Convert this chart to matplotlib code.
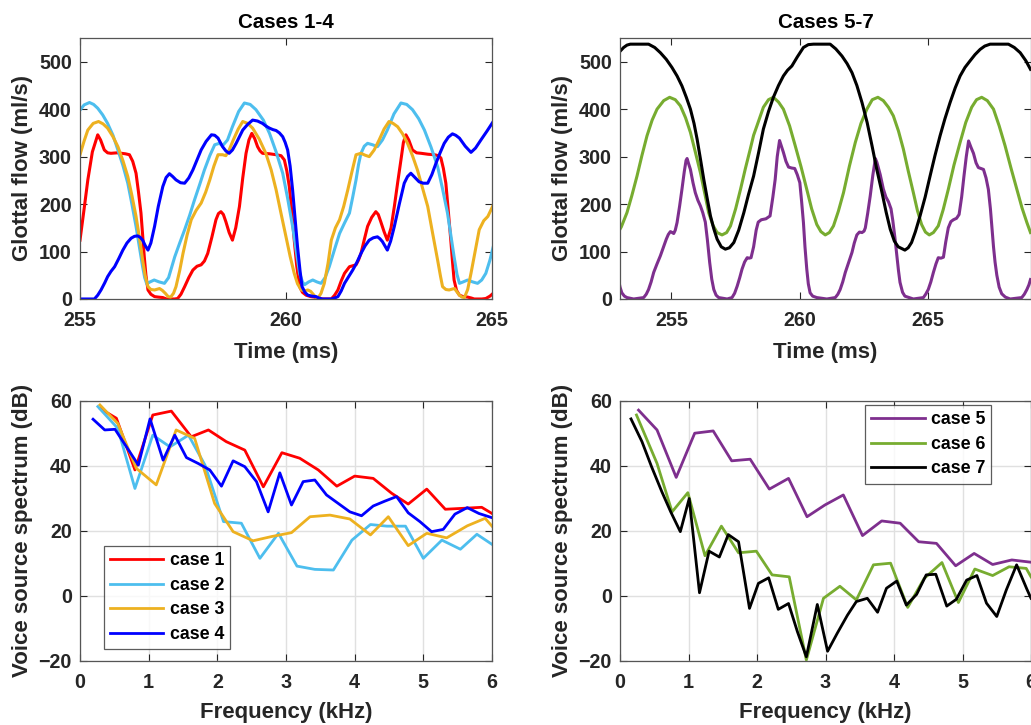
import matplotlib
matplotlib.use("Agg")
import matplotlib.pyplot as plt

plt.rcParams['font.family'] = ['Liberation Sans', 'DejaVu Sans']
plt.rcParams['font.weight'] = 'bold'

# ---- glottal flow, cases 1-4 (time ms, flow ml/s) ----
t1 = [255.0, 255.1, 255.19, 255.3, 255.43, 255.5, 255.59, 255.67, 255.75, 255.9, 256.0, 256.1, 256.2, 256.28,
      256.36, 256.42, 256.48, 256.52, 256.56, 256.6, 256.65, 256.72, 256.81, 256.9, 257.01, 257.1, 257.3,
      257.37, 257.45, 257.54, 257.64, 257.74, 257.84, 257.94, 258.02, 258.1, 258.2, 258.3, 258.36, 258.42,
      258.48, 258.54, 258.62, 258.7, 258.78, 258.87, 258.95, 259.03, 259.1, 259.17, 259.24, 259.31, 259.37,
      259.43, 259.6, 259.76, 259.88, 259.96, 260.02, 260.08, 260.14, 260.2, 260.26, 260.33, 260.4, 260.49,
      260.6, 260.69, 260.8, 260.9, 261.1, 261.18, 261.26, 261.34, 261.42, 261.54, 261.62, 261.7, 261.76,
      261.82, 261.9, 261.98, 262.08, 262.18, 262.24, 262.3, 262.38, 262.46, 262.55, 262.63, 262.71, 262.79,
      262.85, 262.91, 262.98, 263.07, 263.17, 263.28, 263.45, 263.6, 263.7, 263.76, 263.82, 263.88, 263.94,
      264.0, 264.04, 264.08, 264.14, 264.21, 264.3, 264.41, 264.5, 264.57, 264.75, 264.85, 264.95, 265.03]
q1 = [124, 190, 251, 310, 346, 335, 314, 308, 307, 308, 307, 306, 304, 290,
      265, 225, 181, 135, 89, 50, 19, 10, 5, 4, 3, 0, 0,
      1, 10, 26, 45, 61, 69, 72, 80, 96, 130, 167, 180, 184,
      178, 163, 140, 124, 150, 195, 255, 307, 335, 349, 338, 321, 312,
      307, 306, 304, 302, 293, 270, 237, 185, 124, 70, 26, 14, 8,
      5, 4, 1, 0, 0, 8, 19, 38, 54, 68, 70, 72, 82,
      96, 125, 153, 172, 184, 178, 163, 142, 124, 150, 195, 245, 293,
      330, 346, 335, 314, 308, 307, 305, 304, 302, 297, 275, 244, 185,
      124, 80, 40, 18, 8, 5, 4, 2, 0, 0, 1, 6, 12]

t2 = [255.0, 255.1, 255.23, 255.33, 255.43, 255.55, 255.67, 255.8, 255.92, 256.04, 256.16, 256.26, 256.36,
      256.45, 256.52, 256.57, 256.62, 256.7, 256.8, 256.92, 257.05, 257.15, 257.3, 257.42, 257.54, 257.66,
      257.78, 257.9, 258.02, 258.15, 258.27, 258.38, 258.46, 258.58, 258.7, 258.85, 258.99, 259.13, 259.27,
      259.45, 259.6, 259.76, 259.92, 260.04, 260.16, 260.25, 260.33, 260.4, 260.45, 260.55, 260.65, 260.75,
      260.85, 260.95, 261.05, 261.18, 261.3, 261.42, 261.54, 261.62, 261.7, 261.76, 261.82, 261.9, 261.98,
      262.1, 262.22, 262.34, 262.46, 262.62, 262.79, 262.93, 263.07, 263.22, 263.36, 263.52, 263.68, 263.8,
      263.92, 264.0, 264.08, 264.15, 264.21, 264.3, 264.41, 264.53, 264.65, 264.75, 264.85, 264.95, 265.03]
q2 = [398, 409, 414, 410, 402, 388, 370, 345, 314, 282, 244, 200, 153,
      105, 68, 45, 32, 36, 40, 36, 33, 45, 89, 118, 146, 176,
      209, 240, 272, 302, 325, 328, 323, 335, 363, 395, 413, 410, 399,
      377, 349, 310, 265, 212, 153, 100, 54, 36, 30, 36, 40, 36,
      33, 45, 68, 105, 138, 160, 181, 215, 251, 283, 307, 322, 328,
      325, 321, 335, 356, 390, 413, 410, 399, 380, 356, 320, 279, 232,
      181, 135, 89, 52, 33, 36, 40, 36, 33, 40, 54, 82, 110]

t3 = [255.0, 255.1, 255.19, 255.32, 255.45, 255.56, 255.67, 255.8, 255.92, 256.04, 256.16, 256.26, 256.36,
      256.45, 256.52, 256.58, 256.65, 256.72, 256.81, 256.93, 257.0, 257.07, 257.14, 257.2, 257.27, 257.33,
      257.42, 257.5, 257.6, 257.7, 257.82, 257.94, 258.05, 258.15, 258.25, 258.35, 258.46, 258.54, 258.62,
      258.72, 258.84, 258.95, 259.07, 259.19, 259.35, 259.51, 259.64, 259.76, 259.88, 260.0, 260.1, 260.2,
      260.28, 260.37, 260.45, 260.53, 260.6, 260.65, 260.72, 260.77, 260.85, 260.93, 261.02, 261.1, 261.2,
      261.3, 261.4, 261.5, 261.6, 261.7, 261.82, 261.92, 262.02, 262.14, 262.26, 262.38, 262.5, 262.6,
      262.71, 262.83, 262.95, 263.07, 263.19, 263.31, 263.44, 263.56, 263.68, 263.75, 263.8, 263.88, 263.96,
      264.04, 264.09, 264.15, 264.21, 264.27, 264.33, 264.41, 264.49, 264.59, 264.69, 264.8, 264.9, 265.03]
q3 = [304, 333, 356, 370, 374, 369, 360, 342, 321, 292, 258, 218, 174,
      125, 82, 50, 26, 20, 19, 22, 18, 12, 5, 4, 12, 26,
      60, 96, 135, 167, 187, 202, 225, 251, 280, 304, 304, 302, 314,
      335, 358, 374, 370, 360, 337, 307, 272, 230, 180, 131, 90, 54,
      32, 19, 17, 19, 16, 11, 4, 1, 12, 33, 75, 124, 150,
      167, 195, 230, 268, 304, 307, 303, 300, 314, 335, 358, 374, 370,
      363, 348, 328, 302, 272, 235, 195, 138, 82, 48, 26, 20, 19,
      21, 22, 15, 8, 4, 3, 20, 54, 100, 146, 165, 174, 198]

t4 = [255.0, 255.2, 255.35, 255.43, 255.51, 255.6, 255.67, 255.75, 255.84, 255.94, 256.04, 256.14, 256.24,
      256.32, 256.4, 256.46, 256.52, 256.58, 256.65, 256.72, 256.81, 256.9, 257.01, 257.09, 257.17, 257.25,
      257.33, 257.44, 257.54, 257.64, 257.74, 257.84, 257.94, 258.06, 258.19, 258.27, 258.35, 258.46, 258.54,
      258.62, 258.7, 258.79, 258.87, 258.95, 259.07, 259.19, 259.31, 259.43, 259.52, 259.6, 259.68, 259.76,
      259.84, 259.92, 259.98, 260.04, 260.1, 260.16, 260.22, 260.28, 260.34, 260.39, 260.46, 260.53, 260.63,
      260.73, 260.8, 260.88, 261.1, 261.18, 261.26, 261.34, 261.42, 261.52, 261.62, 261.72, 261.82, 261.92,
      262.02, 262.12, 262.22, 262.28, 262.34, 262.4, 262.46, 262.54, 262.63, 262.75, 262.87, 262.95, 263.03,
      263.13, 263.23, 263.33, 263.44, 263.54, 263.64, 263.74, 263.84, 263.94, 264.04, 264.12, 264.21, 264.35,
      264.49, 264.6, 264.73, 264.88, 265.03]
q4 = [0, 0, 0, 8, 19, 34, 47, 58, 68, 85, 103, 118, 128,
      132, 133, 130, 124, 113, 103, 118, 153, 195, 237, 256, 264, 258,
      251, 245, 244, 255, 272, 293, 314, 332, 346, 345, 339, 321, 312,
      307, 314, 328, 342, 356, 368, 377, 375, 370, 364, 360, 357, 355,
      350, 342, 330, 314, 280, 230, 170, 110, 60, 26, 14, 8, 6,
      5, 2, 0, 0, 2, 5, 17, 33, 47, 61, 77, 96, 112,
      124, 129, 131, 127, 121, 112, 103, 122, 153, 200, 244, 258, 265,
      256, 247, 244, 244, 262, 286, 308, 328, 341, 348, 345, 339, 322,
      309, 318, 335, 354, 374]

# ---- glottal flow, cases 5-7 ----
t5 = [252.94, 253.0, 253.07, 253.17, 253.27, 253.53, 253.92, 254.02, 254.11, 254.21, 254.31, 254.44, 254.57,
      254.68, 254.8, 254.88, 254.96, 255.03, 255.09, 255.15, 255.22, 255.32, 255.41, 255.5, 255.57, 255.61,
      255.67, 255.74, 255.84, 255.93, 256.03, 256.13, 256.22, 256.32, 256.4, 256.49, 256.57, 256.65, 256.74,
      256.84, 257.17, 257.36, 257.46, 257.56, 257.66, 257.75, 257.85, 257.95, 258.02, 258.1, 258.2, 258.3,
      258.38, 258.5, 258.68, 258.84, 258.95, 259.04, 259.12, 259.21, 259.28, 259.36, 259.46, 259.56, 259.68,
      259.8, 259.9, 260.0, 260.07, 260.14, 260.2, 260.27, 260.33, 260.4, 260.5, 260.66, 261.05, 261.38,
      261.48, 261.57, 261.67, 261.77, 261.9, 262.03, 262.12, 262.22, 262.32, 262.42, 262.5, 262.55, 262.64,
      262.74, 262.84, 262.94, 263.0, 263.13, 263.25, 263.35, 263.45, 263.55, 263.62, 263.7, 263.77, 263.84,
      263.9, 264.0, 264.09, 264.42, 264.81, 264.9, 265.0, 265.1, 265.2, 265.3, 265.39, 265.49, 265.59,
      265.68, 265.78, 265.88, 265.98, 266.1, 266.2, 266.3, 266.39, 266.48, 266.57, 266.66, 266.76, 266.86,
      266.95, 267.05, 267.15, 267.25, 267.34, 267.42, 267.48, 267.54, 267.6, 267.67, 267.76, 267.86, 268.0,
      268.19, 268.64, 268.74, 268.84, 268.92, 268.98]
q5 = [41, 25, 13, 6, 3, 0, 3, 10, 20, 36, 56, 74, 91,
      108, 126, 136, 142, 140, 138, 145, 161, 196, 231, 268, 292, 296,
      285, 273, 245, 224, 208, 196, 182, 162, 125, 77, 42, 20, 8,
      3, 0, 3, 12, 27, 45, 63, 78, 87, 86, 87, 110, 145,
      162, 167, 169, 175, 215, 252, 300, 334, 322, 309, 290, 278, 276,
      275, 262, 245, 205, 161, 110, 63, 32, 13, 6, 3, 0, 3,
      10, 20, 36, 56, 77, 98, 118, 135, 141, 140, 143, 150, 180,
      217, 260, 296, 288, 262, 232, 215, 205, 190, 165, 130, 95, 60,
      35, 14, 6, 0, 3, 10, 20, 36, 56, 74, 87, 86, 88,
      120, 150, 163, 167, 170, 178, 215, 259, 300, 333, 320, 307, 287,
      277, 275, 273, 255, 231, 190, 150, 110, 78, 50, 25, 11, 4,
      0, 3, 10, 20, 30, 41]

t6 = [252.88, 253.05, 253.27, 253.46, 253.66, 253.85, 254.05, 254.25, 254.44, 254.7, 254.93, 255.15, 255.35,
      255.55, 255.74, 255.93, 256.13, 256.3, 256.45, 256.62, 256.78, 256.97, 257.15, 257.3, 257.5, 257.69,
      257.88, 258.07, 258.2, 258.33, 258.58, 258.78, 258.97, 259.17, 259.36, 259.6, 259.82, 260.05, 260.27,
      260.46, 260.66, 260.82, 260.99, 261.15, 261.31, 261.5, 261.7, 261.93, 262.16, 262.38, 262.61, 262.82,
      263.04, 263.25, 263.45, 263.64, 263.84, 264.03, 264.22, 264.42, 264.58, 264.74, 264.89, 265.04, 265.2,
      265.39, 265.58, 265.78, 266.0, 266.24, 266.46, 266.69, 266.88, 267.08, 267.3, 267.54, 267.76, 267.99,
      268.22, 268.45, 268.65, 268.84, 268.98]
q6 = [136, 152, 182, 218, 259, 302, 344, 377, 400, 418, 425, 420, 407,
      382, 351, 310, 266, 222, 182, 155, 140, 135, 140, 154, 190, 231,
      275, 316, 345, 365, 404, 420, 425, 415, 400, 365, 323, 278, 231,
      190, 157, 142, 135, 140, 154, 185, 224, 280, 330, 370, 400, 420,
      425, 418, 404, 386, 354, 316, 270, 224, 186, 157, 141, 135, 140,
      154, 188, 231, 282, 330, 372, 404, 420, 425, 418, 400, 365, 323,
      276, 231, 192, 161, 140]

t7 = [252.88, 253.0, 253.14, 253.27, 253.4, 253.75, 254.11, 254.35, 254.57, 254.8, 255.02, 255.22, 255.41,
      255.58, 255.74, 255.88, 256.0, 256.13, 256.26, 256.4, 256.52, 256.65, 256.78, 256.94, 257.1, 257.26,
      257.43, 257.62, 257.82, 258.0, 258.2, 258.4, 258.58, 258.78, 258.97, 259.17, 259.36, 259.52, 259.69,
      259.9, 260.14, 260.33, 260.53, 260.85, 261.18, 261.4, 261.64, 261.84, 262.03, 262.22, 262.42, 262.62,
      262.81, 263.0, 263.2, 263.36, 263.52, 263.68, 263.83, 264.09, 264.22, 264.35, 264.5, 264.68, 264.88,
      265.07, 265.26, 265.46, 265.65, 265.85, 266.05, 266.24, 266.43, 266.63, 266.82, 267.02, 267.2, 267.41,
      267.77, 268.12, 268.35, 268.58, 268.8, 268.98]
q7 = [512, 522, 530, 535, 537, 537, 537, 530, 519, 505, 488, 470, 449,
      425, 400, 370, 337, 295, 252, 210, 175, 148, 126, 110, 105, 108,
      119, 145, 182, 220, 259, 310, 358, 395, 425, 450, 470, 482, 491,
      510, 530, 536, 537, 537, 537, 527, 512, 496, 477, 450, 414, 372,
      323, 272, 224, 183, 147, 122, 110, 103, 108, 119, 142, 175, 215,
      259, 302, 344, 380, 414, 445, 470, 488, 502, 515, 526, 533, 537,
      537, 537, 530, 519, 502, 484]

# ---- voice source spectra (kHz, dB) ----
f1 = [0.3, 0.53, 0.8, 1.06, 1.33, 1.62, 1.87, 2.13, 2.4, 2.67, 2.94, 3.2, 3.47, 3.74, 4.0, 4.27, 4.54,
      4.78, 5.05, 5.32, 5.59, 5.85, 6.0]
s1 = [57.5, 54.6, 38.7, 55.6, 56.8, 48.9, 51.0, 47.4, 44.8, 33.5, 44.0, 42.3, 38.7, 33.7, 36.8, 36.1, 31.5,
      28.2, 32.8, 26.6, 26.9, 27.2, 25.3]

f2 = [0.26, 0.55, 0.8, 1.06, 1.31, 1.58, 1.82, 2.09, 2.35, 2.62, 2.89, 3.16, 3.42, 3.69, 3.96, 4.23, 4.47,
      4.74, 5.0, 5.27, 5.54, 5.78, 6.0]
s2 = [58.2, 51.5, 33.0, 49.4, 45.8, 49.4, 40.2, 22.8, 22.3, 11.5, 19.2, 9.1, 8.1, 7.9, 17.1, 21.9, 21.4,
      21.4, 11.5, 17.1, 14.3, 18.9, 15.8]

f3 = [0.29, 0.55, 0.82, 1.11, 1.4, 1.67, 1.96, 2.23, 2.52, 2.79, 3.08, 3.35, 3.64, 3.93, 4.23, 4.49, 4.78,
      5.05, 5.34, 5.64, 5.9, 6.0]
s3 = [58.7, 53.0, 39.2, 34.1, 51.0, 48.4, 28.4, 19.7, 16.9, 18.2, 19.4, 24.3, 24.8, 23.6, 18.7, 24.3, 15.4,
      19.2, 17.8, 21.5, 23.8, 21.4]

f4 = [0.19, 0.36, 0.51, 0.85, 1.02, 1.21, 1.38, 1.55, 1.72, 1.89, 2.06, 2.23, 2.4, 2.57, 2.74, 2.91, 3.08,
      3.25, 3.42, 3.59, 3.76, 3.93, 4.1, 4.27, 4.44, 4.61, 4.78, 4.95, 5.12, 5.29, 5.46, 5.64, 5.81, 6.0]
s4 = [54.3, 51.0, 51.2, 40.2, 54.4, 41.7, 49.4, 42.5, 40.7, 38.7, 33.7, 41.5, 39.7, 35.1, 25.8, 37.8, 27.9,
      35.1, 35.6, 31.0, 28.4, 25.8, 24.6, 27.6, 29.1, 30.5, 25.5, 22.8, 19.7, 20.4, 25.1, 27.1, 25.3, 24.0]

f5 = [0.27, 0.54, 0.82, 1.09, 1.36, 1.63, 1.9, 2.18, 2.46, 2.73, 2.99, 3.26, 3.54, 3.82, 4.09, 4.36, 4.62,
      4.9, 5.17, 5.44, 5.72, 6.0]
s5 = [57.1, 51.0, 36.4, 50.0, 50.7, 41.5, 42.0, 32.8, 36.1, 24.3, 27.9, 31.0, 18.5, 23.0, 22.3, 16.6, 16.1,
      9.2, 13.0, 9.6, 11.0, 10.3]

f6 = [0.24, 0.54, 0.76, 0.99, 1.24, 1.48, 1.73, 1.99, 2.22, 2.47, 2.72, 2.97, 3.21, 3.45, 3.7, 3.95, 4.2,
      4.44, 4.7, 4.94, 5.18, 5.44, 5.68, 5.93, 6.0]
s6 = [55.6, 40.7, 25.8, 31.7, 12.3, 21.4, 13.2, 13.7, 6.4, 5.8, -19.8, -0.8, 2.9, -1.3, 9.5, 10.0, -3.6,
      5.3, 10.2, -2.1, 8.2, 6.2, 8.9, 8.4, 5.8]

f7 = [0.16, 0.32, 0.46, 0.61, 0.74, 0.88, 1.01, 1.16, 1.3, 1.45, 1.58, 1.73, 1.89, 2.02, 2.17, 2.31, 2.46,
      2.59, 2.72, 2.88, 3.03, 3.17, 3.32, 3.45, 3.61, 3.76, 3.89, 4.04, 4.18, 4.33, 4.47, 4.61, 4.77, 4.91,
      5.06, 5.21, 5.35, 5.5, 5.64, 5.79, 5.94, 6.0]
s7 = [54.4, 47.4, 39.7, 32.0, 25.8, 19.7, 29.9, 0.9, 13.7, 11.9, 18.8, 16.6, -3.9, 3.8, 5.5, -4.2, -2.4,
      -11.1, -18.8, -2.7, -17.1, -11.6, -6.0, -1.8, -0.8, -5.1, 2.3, 4.5, -2.9, 0.4, 6.4, 6.6, -3.2, -1.1,
      4.8, 6.2, -2.3, -6.4, 1.8, 9.5, 2.0, -0.8]

c_red = '#FF0000'
c_lblue = '#4DBEEE'
c_orange = '#EDB120'
c_blue = '#0000FF'
c_purple = '#7E2F8E'
c_green = '#77AC30'
c_black = '#000000'
dark = '#262626'

fs_tick = 14.2
fs_lab = 16
fs_title = 14.8

fig = plt.figure(figsize=(10.31, 7.25), dpi=100)
ax_tl = fig.add_axes([0.0776, 0.5876, 0.3996, 0.36])
ax_tr = fig.add_axes([0.6014, 0.5876, 0.3986, 0.36])
ax_bl = fig.add_axes([0.0776, 0.0887, 0.3996, 0.3586])
ax_br = fig.add_axes([0.6014, 0.0887, 0.3986, 0.3586])


def style(ax, grid):
    ax.tick_params(direction='in', top=True, right=True, length=5, width=0.8,
                   labelsize=fs_tick, colors=dark)
    ax.tick_params(axis='x', pad=9)
    ax.tick_params(axis='y', pad=6)
    for lab in ax.get_xticklabels() + ax.get_yticklabels():
        lab.set_fontweight('bold')
    for sp in ax.spines.values():
        sp.set_color('#555555')
        sp.set_linewidth(0.9)
    if grid:
        ax.grid(True, color='#e0e0e0', linewidth=1.0)
        ax.set_axisbelow(True)


lw_top = 2.2
ax_tl.plot(t1, q1, color=c_red, lw=lw_top)
ax_tl.plot(t2, q2, color=c_lblue, lw=lw_top)
ax_tl.plot(t3, q3, color=c_orange, lw=lw_top)
ax_tl.plot(t4, q4, color=c_blue, lw=lw_top)
ax_tl.set_xlim(255, 265)
ax_tl.set_ylim(0, 550)
ax_tl.set_xticks([255, 260, 265])
ax_tl.set_yticks([0, 100, 200, 300, 400, 500])
ax_tl.set_title('Cases 1-4', fontsize=fs_title, fontweight='bold', pad=7)
ax_tl.set_xlabel('Time (ms)', fontsize=fs_lab, fontweight='bold', color=dark, labelpad=8)
ax_tl.set_ylabel('Glottal flow (ml/s)', fontsize=fs_lab, fontweight='bold', color=dark)
style(ax_tl, False)

ax_tr.plot(t5, q5, color=c_purple, lw=lw_top)
ax_tr.plot(t6, q6, color=c_green, lw=lw_top)
ax_tr.plot(t7, q7, color=c_black, lw=lw_top)
ax_tr.set_xlim(253, 269)
ax_tr.set_ylim(0, 550)
ax_tr.set_xticks([255, 260, 265])
ax_tr.set_yticks([0, 100, 200, 300, 400, 500])
ax_tr.set_title('Cases 5-7', fontsize=fs_title, fontweight='bold', pad=7)
ax_tr.set_xlabel('Time (ms)', fontsize=fs_lab, fontweight='bold', color=dark, labelpad=8)
ax_tr.set_ylabel('Glottal flow (ml/s)', fontsize=fs_lab, fontweight='bold', color=dark)
style(ax_tr, False)

lw_bot = 2.0
ax_bl.plot(f1, s1, color=c_red, lw=lw_bot, label='case 1')
ax_bl.plot(f2, s2, color=c_lblue, lw=lw_bot, label='case 2')
ax_bl.plot(f3, s3, color=c_orange, lw=lw_bot, label='case 3')
ax_bl.plot(f4, s4, color=c_blue, lw=lw_bot, label='case 4')
ax_bl.set_xlim(0, 6)
ax_bl.set_ylim(-20, 60)
ax_bl.set_xticks(range(0, 7))
ax_bl.set_yticks([-20, 0, 20, 40, 60])
ax_bl.set_xlabel('Frequency (kHz)', fontsize=fs_lab, fontweight='bold', color=dark, labelpad=7)
ax_bl.set_ylabel('Voice source spectrum (dB)', fontsize=fs_lab, fontweight='bold', color=dark)
style(ax_bl, True)
leg = ax_bl.legend(loc='lower left', bbox_to_anchor=(0.058, 0.045),
                   prop={'weight': 'bold', 'size': 12.8}, frameon=True, fancybox=False,
                   edgecolor='#333333', handlelength=3.0, labelspacing=0.42,
                   borderpad=0.35, handletextpad=0.35, borderaxespad=0)
leg.get_frame().set_linewidth(0.9)

ax_br.plot(f5, s5, color=c_purple, lw=lw_bot, label='case 5')
ax_br.plot(f6, s6, color=c_green, lw=lw_bot, label='case 6')
ax_br.plot(f7, s7, color=c_black, lw=lw_bot, label='case 7')
ax_br.set_xlim(0, 6)
ax_br.set_ylim(-20, 60)
ax_br.set_xticks(range(0, 7))
ax_br.set_yticks([-20, 0, 20, 40, 60])
ax_br.set_xlabel('Frequency (kHz)', fontsize=fs_lab, fontweight='bold', color=dark, labelpad=7)
ax_br.set_ylabel('Voice source spectrum (dB)', fontsize=fs_lab, fontweight='bold', color=dark)
style(ax_br, True)
leg2 = ax_br.legend(loc='upper left', bbox_to_anchor=(0.596, 0.983),
                    prop={'weight': 'bold', 'size': 12.8}, frameon=True, fancybox=False,
                    edgecolor='#333333', handlelength=3.0, labelspacing=0.42,
                    borderpad=0.35, handletextpad=0.35, borderaxespad=0)
leg2.get_frame().set_linewidth(0.9)

fig.savefig('out.png', dpi=100)
